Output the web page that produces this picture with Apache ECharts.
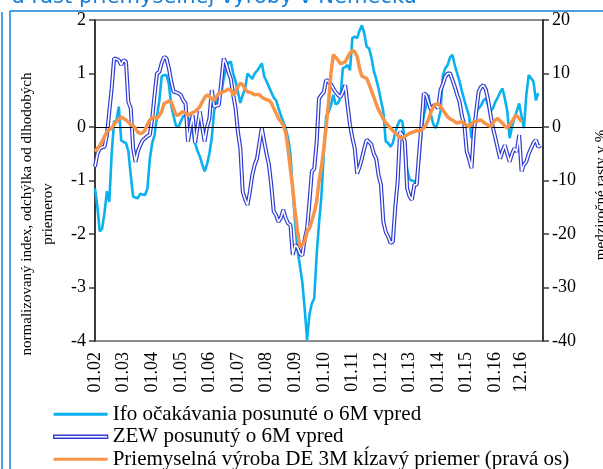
<!DOCTYPE html>
<html><head><meta charset="utf-8">
<script src="https://cdn.jsdelivr.net/npm/echarts@6/dist/echarts.min.js"></script>
<style>html,body{margin:0;padding:0;background:#fff}#c{width:603px;height:469px}</style>
</head><body><div id="c"></div>
<script>
// months from 01.02 to 09.17
var startYear = 2002, startMonth = 1, monthCount = 189;
var categories = [];
for (var k = 0; k < monthCount; k++) {
  var m = (startMonth - 1 + k) % 12 + 1, y = startYear + Math.floor((startMonth - 1 + k) / 12);
  categories.push((m < 10 ? '0' : '') + m + '.' + String(y).slice(2));
}
var tickLabels = ['01.02','01.03','01.04','01.05','01.06','01.07','01.08','01.09','01.10','01.11','01.12','01.13','01.14','01.15','01.16','12.16'];

var ifo = [-1.15,-1.5,-1.95,-1.9,-1.6,-1.2,-1.4,-0.5,0.1,0.12,0.38,-0.25,-0.28,-0.3,-0.45,-0.9,-1.3,-1.32,-1.33,-1.25,
-1.26,-1.27,-1.15,-0.6,-0.3,-0.15,0.2,0.5,0.95,0.97,0.97,0.8,0.4,0.2,0.02,0.0,0.1,0.2,0.22,0.18,
0.1,-0.1,-0.3,-0.45,-0.55,-0.7,-0.83,-0.7,-0.5,-0.2,0.3,0.5,0.6,0.63,0.9,1.1,1.2,1.22,1.0,0.85,
0.65,0.45,0.6,0.72,1.0,0.95,0.9,1.0,1.05,1.12,1.19,0.95,0.85,0.75,0.65,0.55,0.5,0.35,0.22,0.1,
-0.02,-0.2,-0.5,-1.2,-1.8,-2.3,-2.6,-2.9,-3.4,-3.98,-3.5,-3.3,-3.2,-2.4,-1.8,-1.3,-0.5,0.2,0.28,0.4,
0.6,0.42,0.45,0.55,1.1,1.12,1.16,1.06,1.66,1.69,1.66,1.8,1.9,1.75,1.5,1.47,1.3,1.05,0.9,0.72,
0.5,0.29,-0.27,-0.3,-0.37,-0.3,-0.1,0.04,0.13,0.1,-0.27,-0.8,-0.98,-1.0,-1.02,-0.99,-0.6,-0.1,0.22,0.4,
0.6,0.22,0.05,-0.02,0.1,0.3,0.97,1.1,1.16,1.3,1.35,1.15,1.0,0.85,0.66,0.5,0.35,0.2,-0.21,0.0,
0.29,0.35,0.4,0.5,0.53,0.4,0.29,0.35,0.47,0.55,0.65,0.72,0.53,0.3,-0.21,0.0,0.16,0.3,0.44,0.2,
-0.02,0.6,0.97,0.91,0.85,0.5,0.63];

var zew = [-0.74,-0.5,-0.4,-0.38,-0.37,-0.15,0.29,0.72,1.28,1.27,1.25,1.16,1.25,1.22,0.47,0.35,-0.4,-0.65,-0.45,-0.34,
-0.25,-0.21,-0.17,-0.15,0.16,0.6,1.0,1.03,1.2,1.31,1.28,1.1,0.85,0.66,0.65,0.63,0.6,0.5,0.44,-0.27,
0.0,0.22,-0.3,0.0,0.29,0.0,-0.27,0.0,0.16,0.69,0.38,0.4,0.41,0.85,1.28,1.19,1.03,0.9,0.6,0.35,
-0.1,-0.4,-1.21,-1.35,-1.46,-1.21,-0.9,-0.71,-0.59,-0.3,-0.02,-0.27,-0.5,-0.71,-1.1,-1.58,-1.65,-1.77,-1.7,-1.55,
-1.7,-1.8,-1.83,-2.39,-2.2,-2.25,-2.37,-2.4,-2.1,-1.9,-1.4,-0.83,-0.78,-0.3,0.53,0.6,0.65,0.88,0.85,0.8,
0.72,0.65,0.6,0.56,0.65,0.78,0.4,0.04,-0.2,-0.4,-0.87,-0.75,-0.59,-0.4,-0.24,-0.28,-0.33,-0.5,-0.59,-0.9,
-1.08,-1.77,-1.96,-2.05,-2.17,-2.14,-1.5,-1.02,-0.09,-0.15,-0.27,-1.15,-1.3,-1.36,-1.08,-1.08,-0.5,0.04,0.63,0.6,
0.45,0.32,0.4,0.41,0.35,0.69,0.8,0.94,1.0,1.0,0.88,0.75,0.6,0.47,0.2,0.04,-0.46,-0.6,-0.77,-0.09,
0.3,0.66,0.75,0.78,0.7,0.5,0.22,-0.02,-0.2,-0.4,-0.59,-0.45,-0.34,-0.5,-0.65,-0.5,-0.4,-0.46,-0.15,-0.83,
-0.7,-0.65,-0.5,-0.4,-0.3,-0.24,-0.37,-0.34];

var ipDE = [-4.6,-4.0,-3.5,-2.7,-1.8,-0.9,-0.5,-0.2,0.5,1.0,1.5,1.9,1.6,1.3,0.9,0.4,0.3,-0.3,-1.0,-1.2,
-1.1,-0.6,0.5,1.3,1.7,1.9,1.6,2.2,2.9,4.4,4.6,4.9,4.7,3.5,2.2,2.3,2.6,2.9,2.6,2.2,
2.5,2.7,2.9,3.3,3.8,4.7,5.5,6.0,5.7,5.3,5.0,5.7,6.3,6.4,6.6,6.8,7.1,6.9,6.0,6.5,
7.5,8.2,7.9,7.0,6.6,6.5,6.3,6.0,6.1,6.0,5.6,5.3,5.1,5.0,4.5,3.5,2.6,1.6,1.0,0.3,
-1.0,-4.0,-8.0,-11.5,-16.0,-19.5,-22.4,-22.0,-21.4,-19.5,-18.9,-17.5,-16.0,-14.0,-10.2,-7.5,-4.0,0.0,4.5,10.0,
13.5,13.0,12.5,11.8,12.0,12.2,13.0,13.8,14.4,14.0,13.2,11.0,9.5,9.3,9.1,8.0,6.8,5.6,4.3,3.2,
2.4,1.5,0.8,0.3,-0.2,-0.7,-1.1,-1.5,-2.1,-2.0,-1.7,-1.5,-1.2,-1.0,-0.9,-0.6,-0.8,-0.6,-0.2,0.5,
1.5,2.8,3.8,4.2,4.4,3.8,3.2,2.5,1.9,1.5,1.3,1.0,0.7,0.9,1.0,0.6,0.3,0.1,0.6,1.0,
1.0,1.2,1.3,0.9,0.6,0.3,0.1,0.8,1.3,1.6,1.1,0.7,0.2,-0.2,0.4,1.0,1.8,2.2,1.6,1.0];

var names = ['Ifo očakávania posunuté o 6M vpred','ZEW posunutý o 6M vpred','Priemyselná výroba DE 3M kĺzavý priemer (pravá os)'];
var serif = '"Liberation Serif","Times New Roman",serif';
var cIfo = '#0BB0EE', cZew = '#2F3BD2', cIp = '#F7944A', frame = '#1580DA';

var labelIdx = {};
tickLabels.forEach(function(t){ var i = categories.indexOf(t); if (i >= 0) labelIdx[i] = true; });

var chart = echarts.init(document.getElementById('c'), null, {renderer:'canvas'});
chart.setOption({
  animation: false,
  backgroundColor: '#fff',
  grid: {left:95, right:60, top:20, bottom:128, show:true, borderColor:'#8c8c8c', borderWidth:2, backgroundColor:'transparent'},
  graphic: [
    {type:'text', left:12, top:-13, style:{text:'a rast priemyselnej výroby v Nemecku', fill:frame, font:'21px "DejaVu Sans", sans-serif'}},
    {type:'line', shape:{x1:2, y1:12, x2:2, y2:469}, style:{stroke:frame, lineWidth:1.5}},
    {type:'line', shape:{x1:10, y1:11, x2:10, y2:469}, style:{stroke:frame, lineWidth:1.5}},
    {type:'line', shape:{x1:10, y1:11, x2:603, y2:11}, style:{stroke:frame, lineWidth:1.5}},
    {type:'text', x:38, y:214, rotation:Math.PI/2, style:{text:'normalizovaný index, odchýlka od dlhodobých\npriemerov', fill:'#000', font:'15px '+serif, align:'center', verticalAlign:'middle', lineHeight:21}},
    {type:'text', x:601, y:195, rotation:Math.PI/2, style:{text:'medziročné rasty v %', fill:'#000', font:'15px '+serif, align:'center', verticalAlign:'middle'}}
  ],
  legend: {
    orient:'vertical', left:48, top:398, height:90, itemWidth:54, itemHeight:3, itemGap:0,
    textStyle:{fontFamily:serif, fontSize:21, color:'#000', lineHeight:22.5},
    data:[
      {name:names[0], icon:'rect', itemStyle:{color:cIfo, borderWidth:0}},
      {name:names[1], icon:'rect', itemStyle:{color:'#fff', borderColor:cZew, borderWidth:1.3}},
      {name:names[2], icon:'rect', itemStyle:{color:cIp, borderWidth:0}}
    ]
  },
  xAxis: {
    type:'category', data:categories, boundaryGap:false,
    axisLine:{show:false}, axisTick:{show:false}, splitLine:{show:false},
    axisLabel:{rotate:90, margin:11, fontFamily:serif, fontSize:18, color:'#000',
      interval:function(i){ return !!labelIdx[i]; }}
  },
  yAxis: [
    {type:'value', min:-4, max:2, interval:1, position:'left',
      axisLine:{show:true, lineStyle:{color:'#3a3a3a', width:2}},
      axisTick:{show:true, length:6, lineStyle:{color:'#3a3a3a', width:1.5}},
      splitLine:{show:false},
      axisLabel:{margin:9, fontFamily:serif, fontSize:18, color:'#000'}},
    {type:'value', min:-40, max:20, interval:10, position:'right',
      axisLine:{show:true, lineStyle:{color:'#3a3a3a', width:2}},
      axisTick:{show:true, length:6, lineStyle:{color:'#3a3a3a', width:1.5}},
      splitLine:{show:false},
      axisLabel:{margin:9, fontFamily:serif, fontSize:18, color:'#000'}}
  ],
  series: [
    {name:names[0], type:'line', data:ifo, yAxisIndex:0, showSymbol:false, symbol:'none',
      lineStyle:{color:cIfo, width:2.6}, itemStyle:{color:cIfo}, z:2,
      markLine:{silent:true, symbol:'none', label:{show:false}, lineStyle:{color:'#000', width:1.2, type:'solid'}, data:[{yAxis:0}]}},
    {name:names[1], type:'line', data:zew, yAxisIndex:0, showSymbol:false, symbol:'none',
      lineStyle:{color:cZew, width:4}, itemStyle:{color:cZew}, z:3},
    {name:'zewInner', type:'line', data:zew, yAxisIndex:0, showSymbol:false, symbol:'none',
      lineStyle:{color:'#fff', width:1.6}, z:4},
    {name:names[2], type:'line', data:ipDE, yAxisIndex:1, showSymbol:false, symbol:'none',
      lineStyle:{color:cIp, width:3.5}, itemStyle:{color:cIp}, z:5}
  ]
});
</script></body></html>
